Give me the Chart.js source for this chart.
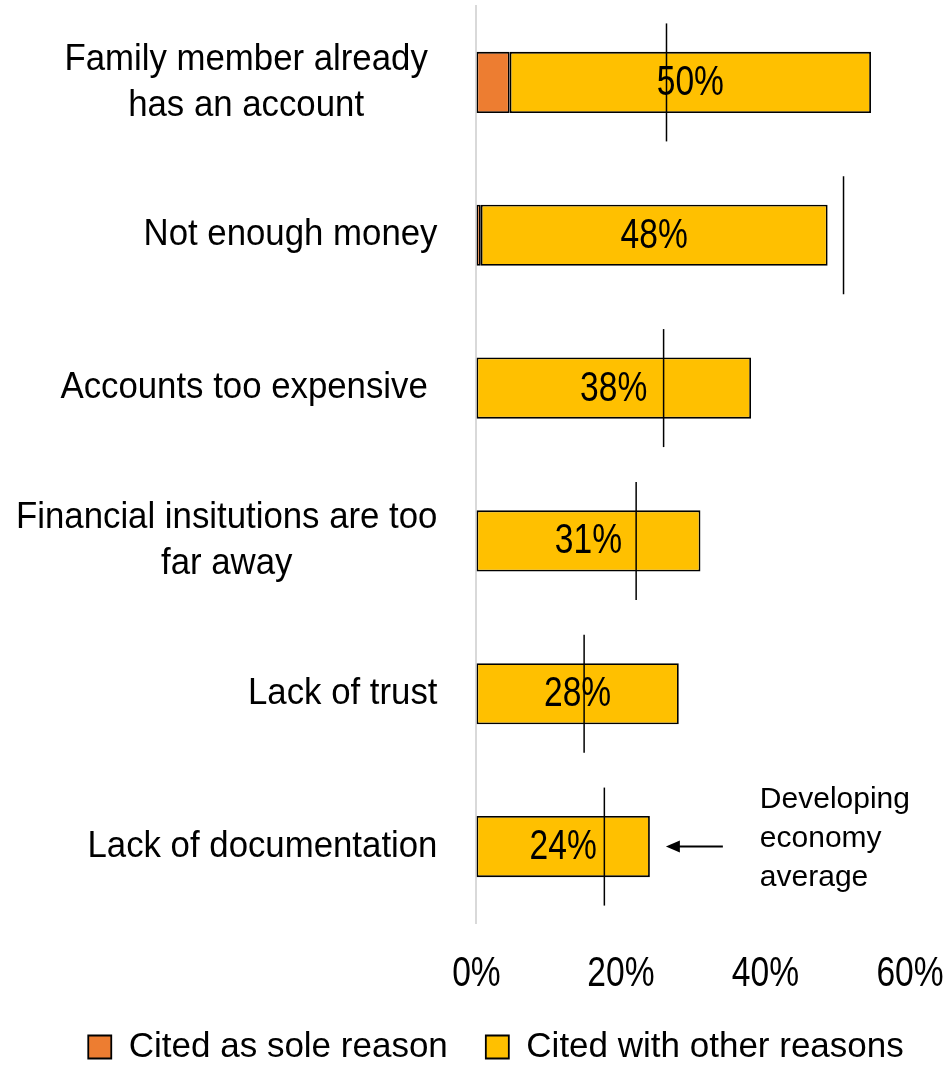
<!DOCTYPE html>
<html>
<head>
<meta charset="utf-8">
<script src="https://cdn.jsdelivr.net/npm/chart.js@4/dist/chart.umd.min.js"></script>
<style>
  html, body { margin: 0; padding: 0; background: #fff; }
  #wrap { width: 950px; height: 1065px; }
</style>
</head>
<body>
<div id="wrap"><canvas id="chart" width="950" height="1065"></canvas></div>
<script>
// Reasons for not having an account (share of adults without an account)
const categories = [
  ['Family member already ', 'has an account'],
  'Not enough money',
  'Accounts too expensive ',
  ['Financial insitutions are too', 'far away'],
  'Lack of trust',
  'Lack of documentation'
];
const soleReason = [4.6, 0.6, 0, 0, 0, 0];
const otherReasons = [50, 48, 38, 31, 28, 24];
const developingAverage = [26.3, 50.8, 25.9, 22.1, 14.9, 17.7];
const xTickValues = [0, 20, 40, 60];
const seriesNames = ['Cited as sole reason', 'Cited with other reasons'];
const averageNote = ['Developing', 'economy', 'average'];

const SANS = "'Liberation Sans', Arial, sans-serif";
const LABEL_GAP = 39;        // space between category labels and the axis line
const CATEGORY_SCALE = 0.94; // slight horizontal squeeze for category labels
const NARROW_SCALE = 0.8;    // condensed style for the percentage figures

function lines(label) { return Array.isArray(label) ? label : [label]; }

// Draw text squeezed horizontally around its anchor point
function drawSqueezed(ctx, text, x, y, sx) {
  ctx.save();
  ctx.translate(x, y);
  ctx.scale(sx, 1);
  ctx.fillText(text, 0, 0);
  ctx.restore();
}

// Category labels: lines centred on each other, block right-aligned to the axis
const categoryLabels = {
  id: 'categoryLabels',
  afterDraw(chart) {
    const { ctx, scales: { y } } = chart;
    ctx.save();
    ctx.font = `37px ${SANS}`;
    ctx.fillStyle = '#000';
    ctx.textAlign = 'center';
    ctx.textBaseline = 'middle';
    const right = y.right - LABEL_GAP;
    const lineH = 46;
    const wOf = t => ctx.measureText(t).width * CATEGORY_SCALE;
    categories.forEach((label, i) => {
      const ls = lines(label);
      let widest = ls[0];
      ls.forEach(t => { if (wOf(t) > wOf(widest)) widest = t; });
      const left = right - wOf(widest);
      const cx = left + wOf(widest.trimEnd()) / 2;
      const cy = y.getPixelForTick(i);
      ls.forEach((t, k) => {
        drawSqueezed(ctx, t.trim(), cx, cy + (k - (ls.length - 1) / 2) * lineH, CATEGORY_SCALE);
      });
    });
    ctx.restore();
  }
};

// Percentage tick labels under the value axis
const xTickLabels = {
  id: 'xTickLabels',
  afterDraw(chart) {
    const { ctx, scales: { x } } = chart;
    ctx.save();
    ctx.font = `42px ${SANS}`;
    ctx.fillStyle = '#000';
    ctx.textAlign = 'center';
    ctx.textBaseline = 'middle';
    xTickValues.forEach(v => drawSqueezed(ctx, v + '%', x.getPixelForValue(v), x.top + 51, NARROW_SCALE));
    ctx.restore();
  }
};

// Value labels inside the "other reasons" segments
const barValueLabels = {
  id: 'barValueLabels',
  afterDatasetsDraw(chart) {
    const { ctx } = chart;
    const meta = chart.getDatasetMeta(1);
    ctx.save();
    ctx.font = `42px ${SANS}`;
    ctx.fillStyle = '#000';
    ctx.textAlign = 'center';
    ctx.textBaseline = 'middle';
    meta.data.forEach((bar, i) => {
      const { x, base, y } = bar.getProps(['x', 'base', 'y'], true);
      drawSqueezed(ctx, otherReasons[i] + '%', (x + base) / 2, y + 1, NARROW_SCALE);
    });
    ctx.restore();
  }
};

// Arrow and note explaining the vertical average markers
const averageNotePlugin = {
  id: 'averageNote',
  afterDraw(chart) {
    const { ctx, scales: { x, y } } = chart;
    const i = categories.length - 1;
    const cy = y.getPixelForTick(i);
    const barEnd = x.getPixelForValue(soleReason[i] + otherReasons[i]);
    const tip = barEnd + 16;
    const tail = barEnd + 73;
    ctx.save();
    ctx.strokeStyle = '#000';
    ctx.fillStyle = '#000';
    ctx.lineWidth = 2;
    ctx.beginPath();
    ctx.moveTo(tail, cy);
    ctx.lineTo(tip + 8, cy);
    ctx.stroke();
    ctx.beginPath();
    ctx.moveTo(tip, cy);
    ctx.lineTo(tip + 14, cy - 6);
    ctx.lineTo(tip + 14, cy + 6);
    ctx.closePath();
    ctx.fill();
    ctx.font = `30px ${SANS}`;
    ctx.textAlign = 'left';
    ctx.textBaseline = 'alphabetic';
    averageNote.forEach((t, k) => ctx.fillText(t, barEnd + 110, cy + (k - 1) * 39));
    ctx.restore();
  }
};

// Nudge the legend row to the right
const legendShift = {
  id: 'legendShift',
  afterLayout(chart) {
    if (chart.legend) {
      chart.legend.left += 33;
      chart.legend.right += 33;
    }
  }
};

new Chart(document.getElementById('chart'), {
  type: 'bar',
  data: {
    labels: categories,
    datasets: [
      {
        label: seriesNames[0],
        data: soleReason,
        backgroundColor: '#ED7D31',
        borderColor: '#000',
        borderWidth: 1.8,
        borderSkipped: false,
        stack: 'reasons',
        categoryPercentage: 1,
        barPercentage: 0.4,
        order: 2
      },
      {
        label: seriesNames[1],
        data: otherReasons,
        backgroundColor: '#FFC000',
        borderColor: '#000',
        borderWidth: 1.8,
        borderSkipped: false,
        stack: 'reasons',
        categoryPercentage: 1,
        barPercentage: 0.4,
        order: 2
      },
      {
        type: 'line',
        label: 'Developing economy average',
        data: developingAverage,
        indexAxis: 'y',
        stack: 'average',
        showLine: false,
        clip: false,
        pointStyle: 'line',
        rotation: 90,
        radius: 59,
        hoverRadius: 59,
        borderColor: '#000',
        backgroundColor: '#000',
        borderWidth: 1.5,
        order: 1
      }
    ]
  },
  options: {
    indexAxis: 'y',
    responsive: false,
    animation: false,
    events: [],
    layout: { autoPadding: false, padding: { left: 16, right: 40, top: 6, bottom: 0 } },
    scales: {
      x: {
        stacked: true,
        min: 0,
        max: 60,
        afterBuildTicks(scale) { scale.ticks = xTickValues.map(v => ({ value: v })); },
        afterFit(scale) { scale.height = 68.5; },
        grid: { display: false, drawTicks: false },
        border: { display: false },
        ticks: { display: false }
      },
      y: {
        stacked: true,
        afterFit(scale) {
          const ctx = scale.ctx;
          ctx.save();
          ctx.font = `37px ${SANS}`;
          let w = 0;
          categories.forEach(l => lines(l).forEach(t => { w = Math.max(w, ctx.measureText(t).width * CATEGORY_SCALE); }));
          ctx.restore();
          scale.width = w + LABEL_GAP;
        },
        grid: { display: false, drawTicks: false },
        border: { display: true, color: '#d9d9d9', width: 2 },
        ticks: { display: false }
      }
    },
    plugins: {
      tooltip: { enabled: false },
      legend: {
        position: 'bottom',
        maxHeight: 73.5,
        labels: {
          filter: item => item.datasetIndex < 2,
          color: '#000',
          font: { size: 35, family: SANS },
          boxWidth: 23,
          boxHeight: 23,
          padding: 38
        }
      }
    }
  },
  plugins: [categoryLabels, xTickLabels, barValueLabels, averageNotePlugin, legendShift]
});
</script>
</body>
</html>
